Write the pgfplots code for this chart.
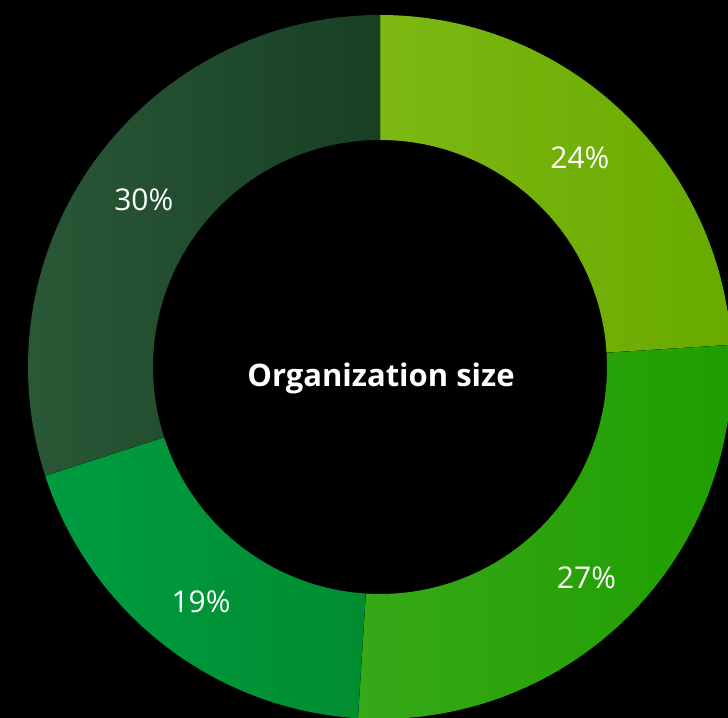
\documentclass[border=0pt]{standalone}
\usepackage{pgfplots}
\pgfplotsset{compat=1.18}
\usepackage{pgfplotstable}
\usepackage{fontspec}
\setmainfont{Open Sans}

\definecolor{aL}{HTML}{7DB812}\definecolor{aR}{HTML}{68AA00}
\definecolor{bL}{HTML}{37A818}\definecolor{bR}{HTML}{1E9E00}
\definecolor{cL}{HTML}{009C42}\definecolor{cR}{HTML}{008D30}
\definecolor{dL}{HTML}{2B5A38}\definecolor{dR}{HTML}{183F24}

% share of each slice, clockwise from 12 o'clock
\pgfplotstableread{
pct lc rc
24  aL aR
27  bL bR
19  cL cR
30  dL dR
}\slices

\begin{document}
\begin{tikzpicture}
\begin{axis}[
  width=728bp, height=718bp, scale only axis,
  xmin=0, xmax=728, ymin=0, ymax=718,
  enlargelimits=false, hide axis, clip=true,
]
\fill[black] (axis cs:0,0) rectangle (axis cs:728,718);
\def\cx{380}\def\cy{351}
\pgfmathsetmacro{\start}{90}
\pgfplotstablegetrowsof{\slices}
\pgfmathtruncatemacro{\last}{\pgfplotsretval-1}
\pgfplotsforeachungrouped \i in {0,...,\last}{%
  \pgfplotstablegetelem{\i}{pct}\of\slices \let\p=\pgfplotsretval
  \pgfplotstablegetelem{\i}{lc}\of\slices \let\lc=\pgfplotsretval
  \pgfplotstablegetelem{\i}{rc}\of\slices \let\rc=\pgfplotsretval
  \pgfmathsetmacro{\stop}{\start-3.6*\p}
  \pgfmathsetmacro{\mid}{(\start+\stop)/2}
  \edef\temp{\noexpand\fill[left color=\lc, right color=\rc, shading angle=90]
    ([shift={(\start:352bp)}]axis cs:\cx,\cy) arc[start angle=\start, end angle=\stop, radius=352bp]
    -- ([shift={(\stop:227bp)}]axis cs:\cx,\cy) arc[start angle=\stop, end angle=\start, radius=227bp]
    -- cycle;
    \noexpand\node[white, yshift=-4bp, font=\noexpand\fontsize{30bp}{36bp}\noexpand\selectfont]
      at ([shift={(\mid:292bp)}]axis cs:\cx,\cy) {\p\noexpand\%};}
  \temp
  \global\let\start=\stop
}
\node[white, font=\fontsize{31bp}{37bp}\selectfont\bfseries] at (axis cs:381,340) {Organization size};
\end{axis}
\end{tikzpicture}
\end{document}
